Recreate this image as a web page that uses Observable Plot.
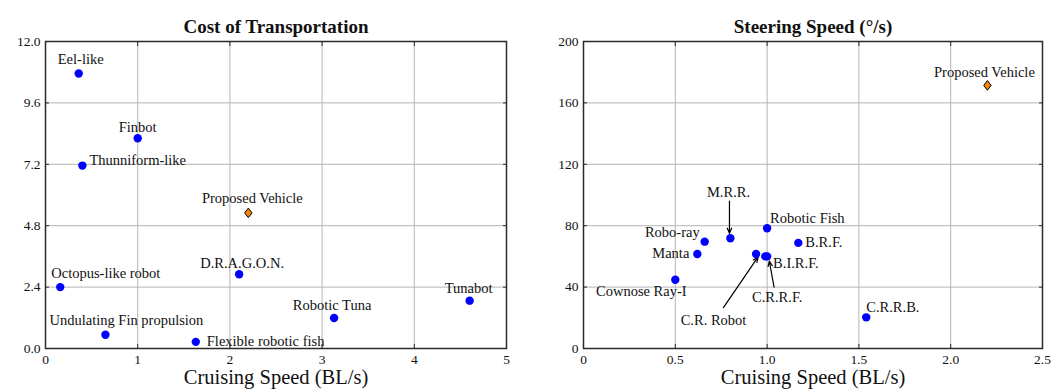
<!DOCTYPE html>
<html>
<head>
<meta charset="utf-8">
<script src="https://cdn.jsdelivr.net/npm/d3@7"></script>
<script src="https://cdn.jsdelivr.net/npm/@observablehq/plot@0.6"></script>
<style>
  html, body { margin: 0; padding: 0; background: #fff; }
  #charts { display: flex; width: 1063px; height: 392px; }
  #charts svg { display: block; }
</style>
</head>
<body>
<div id="charts"></div>
<script>
// ---- Cost of transportation (left panel) ----
const cotRobots = ["Eel-like", "Finbot", "Thunniform-like", "D.R.A.G.O.N.", "Octopus-like robot",
                   "Tunabot", "Robotic Tuna", "Undulating Fin propulsion", "Flexible robotic fish"];
const cotSpeed = [0.36, 1.00, 0.40, 2.10, 0.16, 4.60, 3.13, 0.65, 1.63];
const cotValue = [10.75, 8.22, 7.15, 2.90, 2.40, 1.87, 1.19, 0.54, 0.26];
const cotXTicks = [0, 1, 2, 3, 4, 5];
const cotXTickLabels = ["0", "1", "2", "3", "4", "5"];
const cotYTicks = [0, 2.4, 4.8, 7.2, 9.6, 12];
const cotYTickLabels = ["0.0", "2.4", "4.8", "7.2", "9.6", "12.0"];

// ---- Steering speed (right panel) ----
const steerRobots = ["Cownose Ray-I", "Manta", "Robo-ray", "M.R.R.", "C.R. Robot", "C.R.R.F.",
                     "B.I.R.F.", "Robotic Fish", "B.R.F.", "C.R.R.B."];
const steerSpeed = [0.50, 0.62, 0.66, 0.80, 0.94, 0.99, 1.00, 1.00, 1.17, 1.54];
const steerValue = [44.8, 61.6, 69.6, 71.8, 61.6, 60.0, 60.0, 78.3, 68.8, 20.3];
const steerXTicks = [0, 0.5, 1, 1.5, 2, 2.5];
const steerXTickLabels = ["0", "0.5", "1.0", "1.5", "2.0", "2.5"];
const steerYTicks = [0, 40, 80, 120, 160, 200];
const steerYTickLabels = ["0", "40", "80", "120", "160", "200"];

// ---- Our vehicle ----
const proposedName = "Proposed Vehicle";
const proposedSpeed = 2.2;
const proposedCot = 5.3;
const proposedSteering = 171.4;

const xAxisTitle = "Cruising Speed (BL/s)";
const cotTitle = "Cost of Transportation";
const steerTitle = "Steering Speed (°/s)";

// Label placement around each marker (pixel offsets)
const cotLabelPlacement = {
  "Eel-like": {dx: 2, dy: -14, anchor: "middle"},
  "Finbot": {dx: 0, dy: -11, anchor: "middle"},
  "Thunniform-like": {dx: 7, dy: -5, anchor: "start"},
  "D.R.A.G.O.N.": {dx: 3, dy: -11, anchor: "middle"},
  "Octopus-like robot": {dx: -9, dy: -14, anchor: "start"},
  "Tunabot": {dx: -1, dy: -12, anchor: "middle"},
  "Robotic Tuna": {dx: -2, dy: -13, anchor: "middle"},
  "Undulating Fin propulsion": {dx: 21, dy: -14, anchor: "middle"},
  "Flexible robotic fish": {dx: 11, dy: 0, anchor: "start"},
  "Proposed Vehicle": {dx: 4, dy: -15, anchor: "middle"}
};
const steerLabelPlacement = {
  "Cownose Ray-I": {dx: -34, dy: 12, anchor: "middle"},
  "Manta": {dx: -8, dy: -1, anchor: "end"},
  "Robo-ray": {dx: -5, dy: -9, anchor: "end"},
  "B.I.R.F.": {dx: 6, dy: 7, anchor: "start"},
  "Robotic Fish": {dx: 3, dy: -10, anchor: "start"},
  "B.R.F.": {dx: 7, dy: -1, anchor: "start"},
  "C.R.R.B.": {dx: 0, dy: -10, anchor: "start"},
  "Proposed Vehicle": {dx: -3, dy: -13, anchor: "middle"}
};
// Callouts with arrows (label spot, arrow tail, arrow head), in data units
const steerCallouts = [
  {name: "M.R.R.", label: [0.79, 102], from: [0.795, 96], to: [0.795, 75]},
  {name: "C.R.R.F.", label: [1.055, 33], from: [1.038, 40], to: [1.012, 57]},
  {name: "C.R. Robot", label: [0.708, 18.4], from: [0.762, 26.6], to: [0.951, 59.7]}
];

// Slightly tall diamond marker
const tallDiamond = {
  draw(context, size) {
    const r = Math.sqrt(size / Math.PI);
    const hh = r * 1.15, hw = r * 0.88;
    context.moveTo(0, -hh);
    context.lineTo(hw, 0);
    context.lineTo(0, hh);
    context.lineTo(-hw, 0);
    context.closePath();
  }
};

const FONT = "'Liberation Serif', 'DejaVu Serif', serif";
const INK = "#111";
const LABEL_SIZE = 14.5;

function panel(cfg) {
  const points = cfg.names.map((name, i) => ({name, x: cfg.speed[i], y: cfg.value[i]}));
  const proposed = [{name: proposedName, x: proposedSpeed, y: cfg.proposedValue}];
  const fmt = (ticks, labels) => d => labels[ticks.findIndex(t => Math.abs(t - d) < 1e-9)];

  const labelMarks = [...points, ...proposed]
    .filter(p => cfg.placement[p.name])
    .map(p => {
      const pl = cfg.placement[p.name];
      return Plot.text([p], {x: "x", y: "y", text: "name", dx: pl.dx, dy: pl.dy,
                             textAnchor: pl.anchor, fill: INK, fontSize: LABEL_SIZE});
    });

  const callouts = cfg.callouts || [];

  return Plot.plot({
    width: cfg.width,
    height: 392,
    marginTop: 41,
    marginBottom: 44,
    marginLeft: cfg.marginLeft,
    marginRight: cfg.marginRight,
    x: {domain: cfg.xDomain},
    y: {domain: cfg.yDomain},
    style: {fontFamily: FONT, fontSize: "13px", color: INK, background: "#fff"},
    marks: [
      Plot.gridX(cfg.xTicks, {stroke: "#b4b4b4", strokeOpacity: 1, strokeWidth: 1}),
      Plot.gridY(cfg.yTicks, {stroke: "#b4b4b4", strokeOpacity: 1, strokeWidth: 1}),
      Plot.frame({stroke: "#2a2a2a", strokeWidth: 1.5}),
      // inward ticks on all four sides
      Plot.axisX({anchor: "top", ticks: cfg.xTicks, tickSize: -4, tickFormat: () => "", label: null, stroke: "#2a2a2a"}),
      Plot.axisX({anchor: "bottom", ticks: cfg.xTicks, tickSize: -4, tickFormat: () => "", label: null, stroke: "#2a2a2a"}),
      Plot.axisY({anchor: "left", ticks: cfg.yTicks, tickSize: -4, tickFormat: () => "", label: null, stroke: "#2a2a2a"}),
      Plot.axisY({anchor: "right", ticks: cfg.yTicks, tickSize: -4, tickFormat: () => "", label: null, stroke: "#2a2a2a"}),
      // tick labels
      Plot.axisX({anchor: "bottom", ticks: cfg.xTicks, tickFormat: fmt(cfg.xTicks, cfg.xLabels),
                  tickSize: 0, tickPadding: 6, label: null, fontSize: 13.5, fill: INK}),
      Plot.axisY({anchor: "left", ticks: cfg.yTicks, tickFormat: fmt(cfg.yTicks, cfg.yLabels),
                  tickSize: 0, tickPadding: 5, label: null, fontSize: 13.5, fill: INK}),
      // arrows for crowded labels
      Plot.arrow(callouts, {
        x1: d => d.from[0], y1: d => d.from[1], x2: d => d.to[0], y2: d => d.to[1],
        stroke: "#000", strokeWidth: 1.2, headLength: 7, headAngle: 45
      }),
      Plot.text(callouts, {x: d => d.label[0], y: d => d.label[1], text: "name", fill: INK, fontSize: LABEL_SIZE}),
      // markers
      Plot.dot(points, {x: "x", y: "y", r: 4.2, fill: "#0000ff", stroke: "none"}),
      Plot.dot(proposed, {x: "x", y: "y", r: 4.2, symbol: tallDiamond, fill: "#f5820a", stroke: "#000", strokeWidth: 1}),
      ...labelMarks,
      // titles
      Plot.text([cfg.title], {frameAnchor: "top", dy: -22, fontWeight: "bold", fontSize: 19, fill: INK}),
      Plot.text([xAxisTitle], {frameAnchor: "bottom", dy: 35, fontSize: 20.5, fill: INK})
    ]
  });
}

const charts = document.getElementById("charts");
charts.append(panel({
  width: 531, marginLeft: 45, marginRight: 25,
  title: cotTitle,
  names: cotRobots, speed: cotSpeed, value: cotValue, proposedValue: proposedCot,
  xDomain: [0, 5], yDomain: [0, 12],
  xTicks: cotXTicks, xLabels: cotXTickLabels, yTicks: cotYTicks, yLabels: cotYTickLabels,
  placement: cotLabelPlacement
}));
charts.append(panel({
  width: 532, marginLeft: 52, marginRight: 21,
  title: steerTitle,
  names: steerRobots, speed: steerSpeed, value: steerValue, proposedValue: proposedSteering,
  xDomain: [0, 2.5], yDomain: [0, 200],
  xTicks: steerXTicks, xLabels: steerXTickLabels, yTicks: steerYTicks, yLabels: steerYTickLabels,
  placement: steerLabelPlacement, callouts: steerCallouts
}));
</script>
</body>
</html>
